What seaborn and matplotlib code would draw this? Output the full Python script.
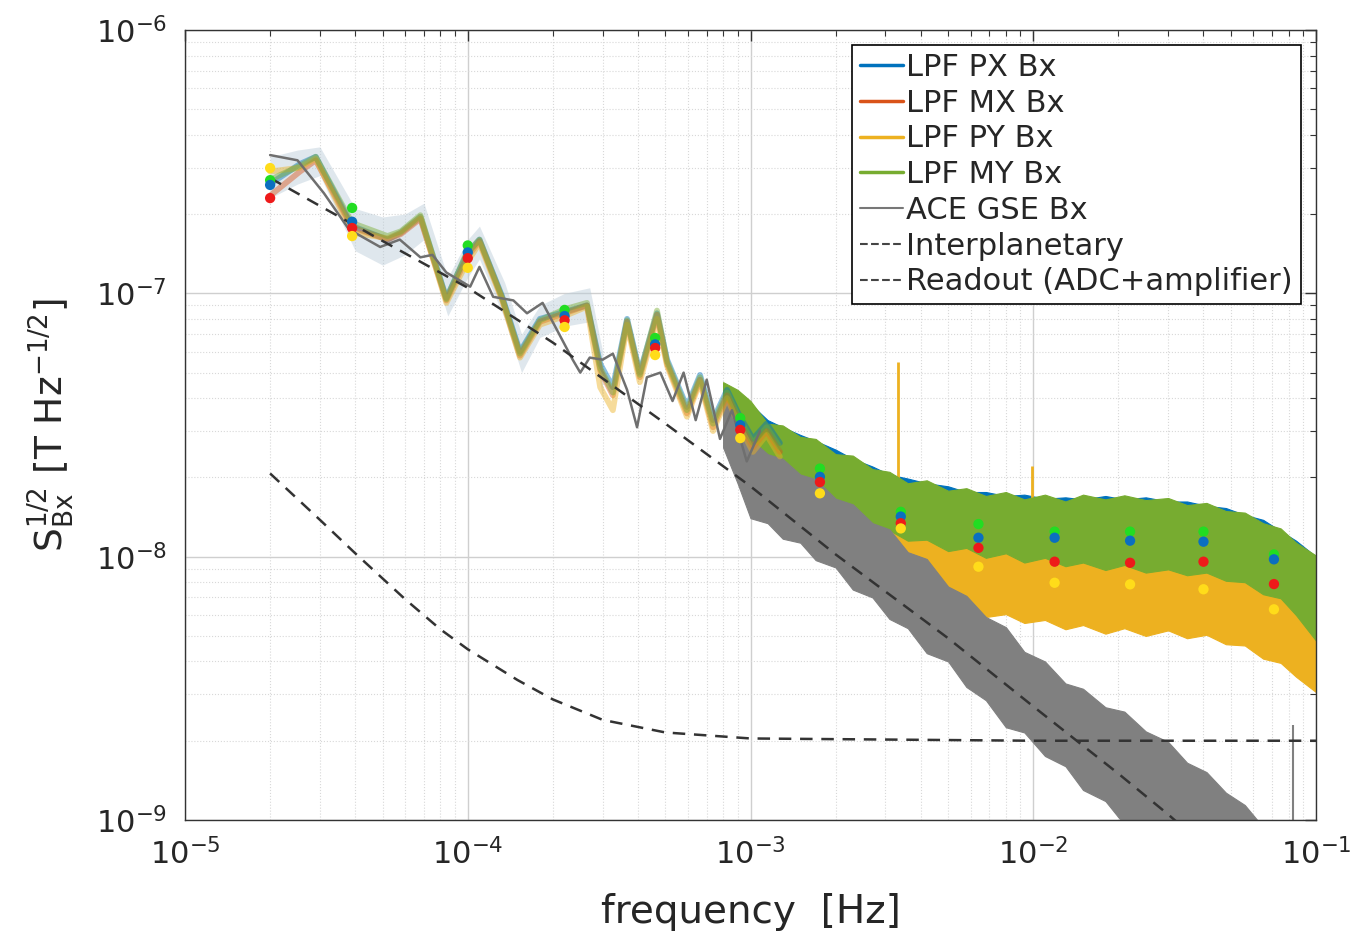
import matplotlib
matplotlib.use("Agg")
import matplotlib.pyplot as plt
from matplotlib.lines import Line2D
from matplotlib.ticker import LogLocator, NullFormatter
import seaborn as sns

sns.set_style("white")
plt.rcParams['font.family'] = ['DejaVu Sans']
plt.rcParams['mathtext.fontset'] = 'dejavusans'

c_px, c_mx, c_py, c_my, c_ace = "#0072BD", "#D95319", "#EDB120", "#77AC30", "#808080"

# ---- low frequency part, LPF channels ----
lf_freq = [2.0e-5, 2.55e-5, 2.9e-5, 3.9e-5, 5.2e-5, 5.8e-5, 6.8e-5, 8.4e-5, 9.9e-5, 1.1e-4,
           1.32e-4, 1.53e-4, 1.8e-4, 2.2e-4, 2.64e-4, 2.94e-4, 3.26e-4, 3.66e-4, 4.06e-4,
           4.67e-4, 5.07e-4, 5.96e-4, 6.63e-4, 7.37e-4, 8.26e-4, 9.18e-4, 1.02e-3, 1.14e-3, 1.27e-3]
px_lf = [2.6e-7, 3.1e-7, 3.3e-7, 1.8e-7, 1.6e-7, 1.7e-7, 1.95e-7, 9.6e-8, 1.4e-7, 1.6e-7,
         9.8e-8, 6.0e-8, 8.0e-8, 8.5e-8, 9.0e-8, 5.4e-8, 4.4e-8, 8.0e-8, 5.0e-8,
         8.4e-8, 5.6e-8, 3.7e-8, 4.9e-8, 3.3e-8, 4.3e-8, 3.4e-8, 2.8e-8, 3.2e-8, 2.7e-8]
mx_lf = [2.35e-7, 2.9e-7, 3.2e-7, 1.78e-7, 1.6e-7, 1.68e-7, 1.92e-7, 9.4e-8, 1.36e-7, 1.58e-7,
         9.6e-8, 5.8e-8, 7.8e-8, 8.4e-8, 9.0e-8, 5.1e-8, 4.1e-8, 7.8e-8, 4.8e-8,
         8.3e-8, 5.4e-8, 3.5e-8, 4.7e-8, 3.1e-8, 4.1e-8, 3.2e-8, 2.6e-8, 3.0e-8, 2.5e-8]
py_lf = [2.9e-7, 3.0e-7, 3.25e-7, 1.7e-7, 1.62e-7, 1.7e-7, 1.95e-7, 9.2e-8, 1.3e-7, 1.55e-7,
         9.5e-8, 5.7e-8, 7.6e-8, 8.2e-8, 8.9e-8, 4.4e-8, 3.6e-8, 7.6e-8, 4.6e-8,
         8.0e-8, 5.3e-8, 3.4e-8, 4.6e-8, 3.0e-8, 4.0e-8, 3.1e-8, 2.5e-8, 2.9e-8, 2.4e-8]
my_lf = [2.7e-7, 3.05e-7, 3.3e-7, 1.85e-7, 1.65e-7, 1.72e-7, 1.98e-7, 9.5e-8, 1.42e-7, 1.6e-7,
         9.7e-8, 5.9e-8, 7.9e-8, 8.7e-8, 9.2e-8, 5.2e-8, 4.2e-8, 7.9e-8, 4.9e-8,
         8.6e-8, 5.5e-8, 3.6e-8, 4.8e-8, 3.2e-8, 4.2e-8, 3.3e-8, 2.7e-8, 3.1e-8, 2.6e-8]

# shaded uncertainty around the low frequency LPF curves
band_freq = [2e-5, 2.5e-5, 3e-5, 4e-5, 5e-5, 6e-5, 7e-5, 8.5e-5, 1e-4, 1.1e-4,
             1.35e-4, 1.55e-4, 1.8e-4, 2.2e-4, 2.7e-4, 3e-4]
band_hi = [3.3e-7, 3.5e-7, 3.6e-7, 2.1e-7, 1.95e-7, 2.0e-7, 2.2e-7, 1.15e-7, 1.6e-7, 1.8e-7,
           1.1e-7, 7.0e-8, 9.0e-8, 1.0e-7, 1.05e-7, 6.0e-8]
band_lo = [2.3e-7, 2.6e-7, 2.8e-7, 1.45e-7, 1.28e-7, 1.4e-7, 1.6e-7, 8.2e-8, 1.15e-7, 1.35e-7,
           8.0e-8, 5.0e-8, 6.8e-8, 7.5e-8, 7.8e-8, 4.0e-8]

# ACE GSE at low frequency
ace_freq = [2.0e-5, 2.5e-5, 3.1e-5, 3.8e-5, 4.9e-5, 5.75e-5, 6.8e-5, 7.5e-5, 8.4e-5, 1.02e-4,
            1.1e-4, 1.23e-4, 1.45e-4, 1.62e-4, 1.84e-4, 2.35e-4, 2.5e-4, 2.7e-4, 3.0e-4,
            3.26e-4, 3.66e-4, 3.97e-4, 4.3e-4, 4.8e-4, 5.3e-4, 5.8e-4, 6.4e-4, 7.0e-4,
            7.8e-4, 8.6e-4, 9.7e-4, 1.08e-3]
ace_lf = [3.35e-7, 3.2e-7, 2.4e-7, 1.75e-7, 1.5e-7, 1.6e-7, 1.37e-7, 1.4e-7, 1.2e-7, 1.06e-7,
          1.26e-7, 9.7e-8, 9.4e-8, 8.4e-8, 9.2e-8, 5.6e-8, 5.0e-8, 5.7e-8, 5.6e-8,
          5.9e-8, 4.3e-8, 3.1e-8, 4.8e-8, 5.0e-8, 3.9e-8, 5.0e-8, 3.3e-8, 4.7e-8,
          2.8e-8, 3.6e-8, 2.3e-8, 3.0e-8]

# ---- high frequency part: envelopes of the noisy spectra ----
hf_freq = [8.0e-4, 9.0e-4, 1.0e-3, 1.15e-3, 1.3e-3, 1.5e-3, 1.7e-3, 2.0e-3, 2.3e-3, 2.7e-3,
           3.1e-3, 3.6e-3, 4.2e-3, 5.0e-3, 5.8e-3, 6.8e-3, 8.0e-3, 9.3e-3, 1.1e-2, 1.3e-2,
           1.5e-2, 1.8e-2, 2.1e-2, 2.5e-2, 3.0e-2, 3.5e-2, 4.1e-2, 4.8e-2, 5.6e-2, 6.5e-2,
           7.5e-2, 8.5e-2, 1.0e-1]
px_hi = [4.5e-8, 4.2e-8, 3.8e-8, 3.3e-8, 3.1e-8, 2.9e-8, 2.75e-8, 2.55e-8, 2.35e-8, 2.2e-8,
         2.05e-8, 1.98e-8, 1.9e-8, 1.85e-8, 1.76e-8, 1.76e-8, 1.7e-8, 1.72e-8, 1.66e-8, 1.68e-8,
         1.65e-8, 1.7e-8, 1.65e-8, 1.68e-8, 1.62e-8, 1.62e-8, 1.56e-8, 1.53e-8, 1.44e-8, 1.38e-8,
         1.25e-8, 1.15e-8, 1.0e-8]
px_lo = [3.4e-8, 2.8e-8, 2.3e-8, 2.0e-8, 1.88e-8, 1.7e-8, 1.6e-8, 1.46e-8, 1.4e-8, 1.28e-8,
         1.24e-8, 1.16e-8, 1.14e-8, 1.06e-8, 1.06e-8, 1.0e-8, 1.01e-8, 9.6e-9, 9.7e-9, 9.3e-9,
         9.4e-9, 9.0e-9, 9.1e-9, 8.8e-9, 8.8e-9, 8.6e-9, 8.6e-9, 8.2e-9, 7.9e-9, 7.3e-9,
         6.9e-9, 6.1e-9, 4.8e-9]
mx_hi = [4.2e-8, 3.7e-8, 3.2e-8, 2.9e-8, 2.7e-8, 2.5e-8, 2.35e-8, 2.1e-8, 1.95e-8, 1.8e-8,
         1.7e-8, 1.6e-8, 1.5e-8, 1.45e-8, 1.4e-8, 1.36e-8, 1.33e-8, 1.3e-8, 1.28e-8, 1.27e-8,
         1.26e-8, 1.25e-8, 1.24e-8, 1.23e-8, 1.22e-8, 1.2e-8, 1.18e-8, 1.15e-8, 1.1e-8, 1.04e-8,
         9.6e-9, 8.7e-9, 7.2e-9]
mx_lo = [3.2e-8, 2.5e-8, 2.1e-8, 1.8e-8, 1.65e-8, 1.5e-8, 1.38e-8, 1.25e-8, 1.15e-8, 1.05e-8,
         9.7e-9, 9.0e-9, 8.4e-9, 7.9e-9, 7.6e-9, 7.3e-9, 7.1e-9, 6.9e-9, 6.75e-9, 6.6e-9,
         6.5e-9, 6.4e-9, 6.35e-9, 6.3e-9, 6.25e-9, 6.15e-9, 6.05e-9, 5.85e-9, 5.55e-9, 5.2e-9,
         4.8e-9, 4.4e-9, 3.7e-9]
py_hi = [4.0e-8, 3.4e-8, 2.9e-8, 2.6e-8, 2.4e-8, 2.2e-8, 2.0e-8, 1.85e-8, 1.7e-8, 1.6e-8,
         1.5e-8, 1.42e-8, 1.36e-8, 1.3e-8, 1.26e-8, 1.22e-8, 1.2e-8, 1.18e-8, 1.16e-8, 1.15e-8,
         1.14e-8, 1.12e-8, 1.1e-8, 1.09e-8, 1.08e-8, 1.07e-8, 1.05e-8, 1.02e-8, 9.7e-9, 9.1e-9,
         8.4e-9, 7.6e-9, 6.2e-9]
py_lo = [3.0e-8, 2.2e-8, 1.92e-8, 1.6e-8, 1.5e-8, 1.31e-8, 1.25e-8, 1.08e-8, 1.02e-8, 8.8e-9,
         8.5e-9, 7.4e-9, 7.2e-9, 6.45e-9, 6.4e-9, 5.9e-9, 6.05e-9, 5.6e-9, 5.75e-9, 5.3e-9,
         5.5e-9, 5.1e-9, 5.35e-9, 5.0e-9, 5.25e-9, 4.9e-9, 5.05e-9, 4.65e-9, 4.6e-9, 4.1e-9,
         3.95e-9, 3.5e-9, 3.06e-9]
my_hi = [4.6e-8, 4.3e-8, 3.9e-8, 3.2e-8, 3.15e-8, 2.85e-8, 2.8e-8, 2.45e-8, 2.42e-8, 2.15e-8,
         2.1e-8, 1.9e-8, 1.95e-8, 1.78e-8, 1.82e-8, 1.7e-8, 1.76e-8, 1.65e-8, 1.72e-8, 1.62e-8,
         1.72e-8, 1.65e-8, 1.71e-8, 1.64e-8, 1.67e-8, 1.57e-8, 1.6e-8, 1.49e-8, 1.47e-8, 1.34e-8,
         1.28e-8, 1.13e-8, 1.01e-8]
my_lo = [3.4e-8, 2.7e-8, 2.3e-8, 1.98e-8, 1.9e-8, 1.66e-8, 1.63e-8, 1.44e-8, 1.41e-8, 1.27e-8,
         1.26e-8, 1.15e-8, 1.16e-8, 1.05e-8, 1.08e-8, 9.9e-9, 1.03e-8, 9.5e-9, 9.9e-9, 9.2e-9,
         9.5e-9, 8.9e-9, 9.3e-9, 8.7e-9, 8.95e-9, 8.5e-9, 8.7e-9, 8.1e-9, 8.0e-9, 7.2e-9,
         6.95e-9, 6.0e-9, 4.8e-9]
ace_hi = [4.0e-8, 3.4e-8, 2.8e-8, 2.45e-8, 2.35e-8, 2.05e-8, 1.97e-8, 1.66e-8, 1.58e-8, 1.34e-8,
          1.27e-8, 1.04e-8, 9.8e-9, 7.7e-9, 7.1e-9, 5.9e-9, 5.4e-9, 4.35e-9, 4.0e-9, 3.3e-9,
          3.15e-9, 2.68e-9, 2.58e-9, 2.17e-9, 1.98e-9, 1.65e-9, 1.52e-9, 1.27e-9, 1.14e-9, 9.4e-10,
          8.7e-10, 7.3e-10, 6.5e-10]
ace_lo = [2.6e-8, 1.9e-8, 1.4e-8, 1.34e-8, 1.17e-8, 1.13e-8, 9.7e-9, 9.1e-9, 7.5e-9, 7.0e-9,
          5.8e-9, 5.35e-9, 4.3e-9, 4.0e-9, 3.2e-9, 2.85e-9, 2.25e-9, 2.15e-9, 1.75e-9, 1.6e-9,
          1.3e-9, 1.18e-9, 9.6e-10, 8.0e-10, 6.6e-10, 5.8e-10, 5.0e-10, 4.4e-10, 4.0e-10, 3.5e-10,
          3.1e-10, 2.8e-10, 2.5e-10]

# isolated spikes
py_spike_f = [3.32e-3, 9.9e-3]
py_spike_lo = [1.5e-8, 1.3e-8]
py_spike_hi = [5.5e-8, 2.2e-8]
ace_spike_f = [8.3e-2]
ace_spike_hi = [2.3e-9]

# ---- binned averages (dots) ----
bin_f = [2e-5, 3.9e-5, 1e-4, 2.2e-4, 4.6e-4, 9.2e-4, 1.76e-3, 3.4e-3, 6.4e-3, 1.19e-2, 2.2e-2, 4e-2, 7.1e-2]
bin_my = [2.69e-7, 2.11e-7, 1.52e-7, 8.65e-8, 6.77e-8, 3.36e-8, 2.16e-8, 1.48e-8, 1.33e-8, 1.245e-8, 1.245e-8, 1.245e-8, 1.02e-8]
bin_px = [2.58e-7, 1.87e-7, 1.43e-7, 8.2e-8, 6.4e-8, 3.16e-8, 2.01e-8, 1.42e-8, 1.18e-8, 1.18e-8, 1.15e-8, 1.14e-8, 9.77e-9]
bin_mx = [2.30e-7, 1.77e-7, 1.36e-7, 7.9e-8, 6.2e-8, 3.03e-8, 1.92e-8, 1.34e-8, 1.08e-8, 9.57e-9, 9.48e-9, 9.57e-9, 7.87e-9]
bin_py = [2.99e-7, 1.65e-7, 1.25e-7, 7.45e-8, 5.83e-8, 2.82e-8, 1.74e-8, 1.28e-8, 9.16e-9, 7.96e-9, 7.85e-9, 7.52e-9, 6.31e-9]

# ---- model curves ----
ip_f = [2e-5, 5e-5, 1e-4, 2e-4, 5e-4, 1e-3, 2e-3, 5e-3, 1e-2, 2e-2, 3e-2, 5e-2]
ip_S = [2.74e-7, 1.58e-7, 1.05e-7, 6.5e-8, 3.2e-8, 1.85e-8, 1.02e-8, 4.9e-9, 2.7e-9, 1.5e-9, 1.05e-9, 6.5e-10]
ro_f = [2e-5, 3e-5, 4e-5, 6e-5, 8e-5, 1e-4, 1.5e-4, 2e-4, 3e-4, 5e-4, 1e-3, 1e-2, 1e-1]
ro_S = [2.07e-8, 1.38e-8, 1.03e-8, 6.9e-9, 5.3e-9, 4.45e-9, 3.4e-9, 2.87e-9, 2.4e-9, 2.15e-9, 2.04e-9, 2.0e-9, 2.0e-9]

fig = plt.figure(figsize=(13.6, 9.33), dpi=100)
ax = fig.add_axes([185/1360, 1-820/933, (1316-185)/1360, (820-30)/933])
ax.set_xscale('log')
ax.set_yscale('log')

# high frequency bands
for hi, lo, col, z in [(px_hi, px_lo, c_px, 2.0), (mx_hi, mx_lo, c_mx, 2.1),
                       (py_hi, py_lo, c_py, 2.2), (my_hi, my_lo, c_my, 2.3)]:
    ax.fill_between(hf_freq, lo, hi, color=col, lw=0.8, zorder=z)
ax.vlines(py_spike_f, py_spike_lo, py_spike_hi, color=c_py, lw=2, zorder=2.25)
ax.fill_between(hf_freq, ace_lo, ace_hi, color=c_ace, lw=0.8, zorder=2.5)
ax.vlines(ace_spike_f, 5e-10, ace_spike_hi, color=c_ace, lw=1.5, zorder=2.5)

# low frequency shaded band and lines
ax.fill_between(band_freq, band_lo, band_hi, color="#b9cbd8", alpha=0.45, lw=0, zorder=1.5)
for vals, col in [(px_lf, c_px), (mx_lf, c_mx), (py_lf, c_py), (my_lf, c_my)]:
    sns.lineplot(x=lf_freq, y=vals, ax=ax, color=col, lw=4.2, alpha=0.45,
                 estimator=None, sort=False, zorder=3)
sns.lineplot(x=ace_freq, y=ace_lf, ax=ax, color="#6f6f6f", lw=1.8,
             estimator=None, sort=False, zorder=3.5)

# model curves
sns.lineplot(x=ip_f, y=ip_S, ax=ax, color="#333333", lw=1.8,
             estimator=None, sort=False, zorder=4).lines[-1].set_dashes((5, 3.5))
sns.lineplot(x=ro_f, y=ro_S, ax=ax, color="#333333", lw=1.8,
             estimator=None, sort=False, zorder=4).lines[-1].set_dashes((5, 3.5))

# binned averages
for vals, col in [(bin_my, "#22dd22"), (bin_px, "#0b6fc0"), (bin_mx, "#ee1a1a"), (bin_py, "#ffdc1a")]:
    sns.scatterplot(x=bin_f, y=vals, ax=ax, color=col, s=55, edgecolor='none', zorder=6)

ax.set_xlim(1e-5, 1e-1)
ax.set_ylim(1e-9, 1e-6)
ax.xaxis.set_minor_locator(LogLocator(base=10, subs=range(2, 10), numticks=20))
ax.yaxis.set_minor_locator(LogLocator(base=10, subs=range(2, 10), numticks=20))
ax.xaxis.set_minor_formatter(NullFormatter())
ax.yaxis.set_minor_formatter(NullFormatter())
ax.grid(True, which='major', color='#cfcfcf', lw=1.0, ls='-', zorder=0)
ax.grid(True, which='minor', color='#d8d8d8', lw=0.8, ls=':', zorder=0)
ax.set_axisbelow(True)
ax.tick_params(which='both', direction='in', top=True, right=True, color='#333333')
ax.tick_params(which='major', length=8, width=1.0, labelsize=22, pad=13)
ax.tick_params(which='minor', length=4, width=0.8)
for sp in ax.spines.values():
    sp.set_color('#333333')
    sp.set_linewidth(1.0)

ax.set_xlabel('frequency  [Hz]', fontsize=28, labelpad=16)
ax.set_ylabel(r'$\mathrm{S}_{\mathrm{Bx}}^{1/2}$ [T Hz$^{\mathrm{-1/2}}$]', fontsize=27, labelpad=14)

handles = [Line2D([], [], color=c_px, lw=2.5), Line2D([], [], color=c_mx, lw=2.5),
           Line2D([], [], color=c_py, lw=2.5), Line2D([], [], color=c_my, lw=2.5),
           Line2D([], [], color="#777777", lw=1.5),
           Line2D([], [], color="#444444", lw=1.5, ls='--'),
           Line2D([], [], color="#444444", lw=1.5, ls='--')]
labels = ['LPF PX Bx', 'LPF MX Bx', 'LPF PY Bx', 'LPF MY Bx', 'ACE GSE Bx',
          'Interplanetary', 'Readout (ADC+amplifier)']
leg = ax.legend(handles, labels, loc='upper right', fontsize=22, frameon=True, fancybox=False,
                framealpha=1, edgecolor='black', handlelength=1.4, handletextpad=0.12,
                labelspacing=0.22, borderpad=0.25, borderaxespad=0.5)
leg.get_frame().set_linewidth(1.2)
leg.set_zorder(10)

fig.savefig('out.png', dpi=100)
